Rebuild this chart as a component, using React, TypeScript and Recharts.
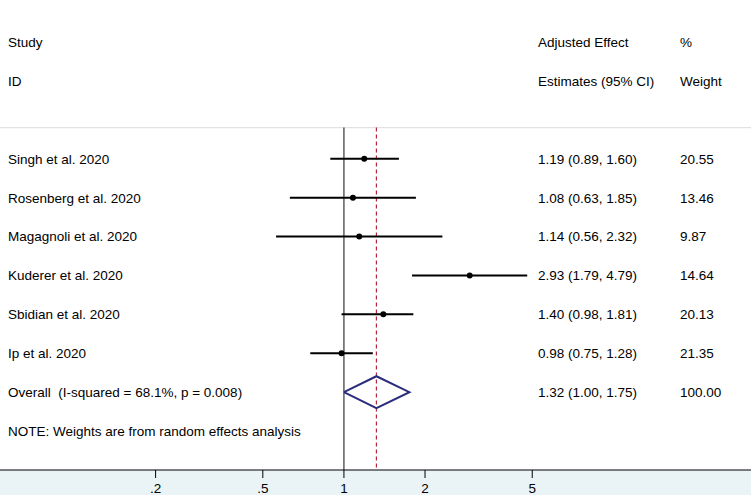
import {
  ComposedChart,
  XAxis,
  YAxis,
  Scatter,
  ReferenceLine,
} from "recharts";

// study data
const studies = [
  "Singh et al. 2020",
  "Rosenberg et al. 2020",
  "Magagnoli et al. 2020",
  "Kuderer et al. 2020",
  "Sbidian et al. 2020",
  "Ip et al. 2020",
];
const estimates = [1.19, 1.08, 1.14, 2.93, 1.4, 0.98];
const lowerCI = [0.89, 0.63, 0.56, 1.79, 0.98, 0.75];
const upperCI = [1.6, 1.85, 2.32, 4.79, 1.81, 1.28];
const weights = [20.55, 13.46, 9.87, 14.64, 20.13, 21.35];

const overallLabel = "Overall  (I-squared = 68.1%, p = 0.008)";
const overallEst = 1.32;
const overallLower = 1.0;
const overallUpper = 1.75;
const overallWeight = 100.0;

const noteText = "NOTE: Weights are from random effects analysis";
const xTicks = [0.2, 0.5, 1, 2, 5];
const tickLabels = [".2", ".5", "1", "2", "5"];

// layout
const W = 751;
const H = 495;
const FONT = "'Liberation Sans', Arial, Helvetica, sans-serif";
const FS = 13.5;
const COL_STUDY = 8;
const COL_EST = 538;
const COL_WT = 680;
const FIRST_ROW = 3;
const DIAMOND_H = 0.41;
const LINE_TOP = 2.2;
const AXIS_ROW = 11;

const studyRows = studies.map((_, i) => FIRST_ROW + i);
const overallRow = FIRST_ROW + studies.length;
const noteRow = overallRow + 1;

const leftTexts = [
  { x: 1, y: 0, t: "Study" },
  { x: 1, y: 1, t: "ID" },
  ...studies.map((s, i) => ({ x: 1, y: studyRows[i], t: s })),
  { x: 1, y: overallRow, t: overallLabel },
  { x: 1, y: noteRow, t: noteText },
];
const fmt = (v: number) => v.toFixed(2);
const estTexts = [
  { x: 1, y: 0, t: "Adjusted Effect" },
  { x: 1, y: 1, t: "Estimates (95% CI)" },
  ...studies.map((_, i) => ({
    x: 1,
    y: studyRows[i],
    t: `${fmt(estimates[i])} (${fmt(lowerCI[i])}, ${fmt(upperCI[i])})`,
  })),
  {
    x: 1,
    y: overallRow,
    t: `${fmt(overallEst)} (${fmt(overallLower)}, ${fmt(overallUpper)})`,
  },
];
const wtTexts = [
  { x: 1, y: 0, t: "%" },
  { x: 1, y: 1, t: "Weight" },
  ...weights.map((w, i) => ({ x: 1, y: studyRows[i], t: fmt(w) })),
  { x: 1, y: overallRow, t: fmt(overallWeight) },
];

const points = estimates.map((e, i) => ({ x: e, y: studyRows[i] }));
const diamond = [
  { x: overallLower, y: overallRow },
  { x: overallEst, y: overallRow - DIAMOND_H },
  { x: overallUpper, y: overallRow },
  { x: overallEst, y: overallRow + DIAMOND_H },
  { x: overallLower, y: overallRow },
];

const textShape = (colX: number) => (props: any) => (
  <text
    x={colX}
    y={props.cy}
    dy="0.36em"
    fontSize={FS}
    fontFamily={FONT}
    fill="#000"
    style={{ whiteSpace: "pre" }}
  >
    {props.payload.t}
  </text>
);

export default function App() {
  return (
    <div
      style={{
        position: "absolute",
        left: 0,
        top: 0,
        width: W,
        height: H,
        background: "linear-gradient(#fff 0 470px, #EAF3F5 470px)",
      }}
    >
      <ComposedChart
        width={W}
        height={H}
        margin={{ top: 0, right: 0, left: 0, bottom: 0 }}
      >
        <XAxis
          type="number"
          dataKey="x"
          scale="log"
          domain={[0.0529, 32.43]}
          allowDataOverflow
          ticks={xTicks}
          tickFormatter={(v: number) => tickLabels[xTicks.indexOf(v)] ?? String(v)}
          height={25}
          stroke="#000"
          tickSize={8}
          tickMargin={5}
          tick={{ fill: "#000", fontSize: FS, fontFamily: FONT }}
        />
        <YAxis type="number" dataKey="y" domain={[-1.08, AXIS_ROW]} reversed hide allowDataOverflow />

        <ReferenceLine
          y={LINE_TOP}
          stroke="#e2e2e2"
          strokeWidth={1.2}
          ifOverflow="visible"
        />
        <ReferenceLine
          segment={[
            { x: 1, y: LINE_TOP },
            { x: 1, y: AXIS_ROW },
          ]}
          stroke="#444"
          strokeWidth={1.3}
        />
        <ReferenceLine
          segment={[
            { x: overallEst, y: LINE_TOP },
            { x: overallEst, y: AXIS_ROW },
          ]}
          stroke="#B4283C"
          strokeWidth={1.2}
          strokeDasharray="4 3"
        />

        {studies.map((s, i) => (
          <ReferenceLine
            key={s}
            segment={[
              { x: lowerCI[i], y: studyRows[i] },
              { x: upperCI[i], y: studyRows[i] },
            ]}
            stroke="#000"
            strokeWidth={2}
          />
        ))}

        <Scatter
          data={points}
          isAnimationActive={false}
          shape={(p: any) => <circle cx={p.cx} cy={p.cy} r={3} fill="#000" />}
        />
        <Scatter
          data={diamond}
          isAnimationActive={false}
          line={{ stroke: "#2B2D7C", strokeWidth: 2 }}
          lineType="joint"
          shape={() => <g />}
        />

        <Scatter data={leftTexts} isAnimationActive={false} shape={textShape(COL_STUDY)} />
        <Scatter data={estTexts} isAnimationActive={false} shape={textShape(COL_EST)} />
        <Scatter data={wtTexts} isAnimationActive={false} shape={textShape(COL_WT)} />
      </ComposedChart>
    </div>
  );
}
